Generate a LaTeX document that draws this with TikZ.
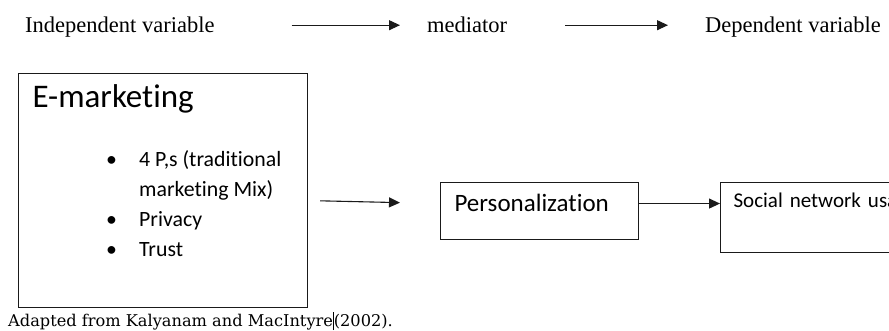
\documentclass[tikz,border=0pt]{standalone}
\usepackage{fontspec}
\setmainfont{Liberation Serif}
\newfontfamily\bodyfont[Ligatures=NoCommon]{Carlito}
\newfontfamily\notefont{DejaVu Serif}
\usepackage{tikz}
\usetikzlibrary{arrows.meta,positioning,calc}
\definecolor{ink}{HTML}{1A1A1A}
\tikzset{
  frame/.style={draw=ink, line width=1.1pt, inner ysep=0pt, align=left, anchor=north west},
  link/.style={draw=ink, line width=1.1pt, -{Triangle[length=11pt,width=10pt]}},
  toplabel/.style={inner sep=0pt, anchor=base west, font=\fontsize{22.5}{27}\selectfont}
}

\begin{document}
\begin{tikzpicture}[x=1pt,y=-1pt]
    \useasboundingbox (0,0) rectangle (889,331);
    \clip (0,0) rectangle (889,331);
    \node[toplabel] (indep) at (25,33) {Independent variable};
    \node[toplabel] (mediator) at (427,33) {mediator};
    \node[toplabel] (dep) at (705,33) {Dependent variable};
    \draw[link, shorten <=77pt, shorten >=27pt] ([yshift=5.5pt]indep.mid east) -- ([yshift=5.5pt]mediator.mid west);
    \draw[link, shorten <=58pt, shorten >=37pt] ([yshift=5.5pt]mediator.mid east) -- ([yshift=5.5pt]dep.mid west);
    \node[
      frame,
      text width=261pt,
      inner xsep=14pt,
      text height=34pt,
      text depth=200pt,
      font=\bodyfont\fontsize{33}{38}\selectfont
    ] (emkt) at (18,73) {E-marketing};
    \node[anchor=base west, inner sep=0pt, font=\bodyfont\fontsize{21.8}{30}\selectfont] (emlist) at (106,167) {%
      \begin{tabular}[t]{@{}p{33pt}@{}l@{}}
        \textbullet & 4 P,s (traditional\\
                    & marketing Mix)\\
        \textbullet & Privacy\\
        \textbullet & Trust
      \end{tabular}};
    \node[
      frame,
      text width=170pt,
      inner xsep=14pt,
      text height=29pt,
      text depth=28pt,
      font=\bodyfont\fontsize{25}{30}\selectfont
    ] (persn) at (440,182) {Personalization};
    \node[
      frame,
      text width=300pt,
      inner xsep=13pt,
      text height=25pt,
      text depth=45pt,
      font=\bodyfont\fontsize{21}{25}\selectfont
    ] (social) at (720,182) {Social network usage};
    \draw[link, shorten <=12pt, shorten >=40pt] ([yshift=-10pt]emkt.east) -- ([yshift=7.5pt]persn.west);
    \draw[link] ([yshift=7.5pt]persn.east) -- ([yshift=14pt]social.west);
    \node[anchor=base west, inner sep=0pt, font=\notefont\fontsize{16.2}{19}\selectfont] (source) at (8,326)
      {Adapted from Kalyanam and MacIntyre\rule[-4pt]{0.8pt}{18pt}(2002).};
\end{tikzpicture}
\end{document}
